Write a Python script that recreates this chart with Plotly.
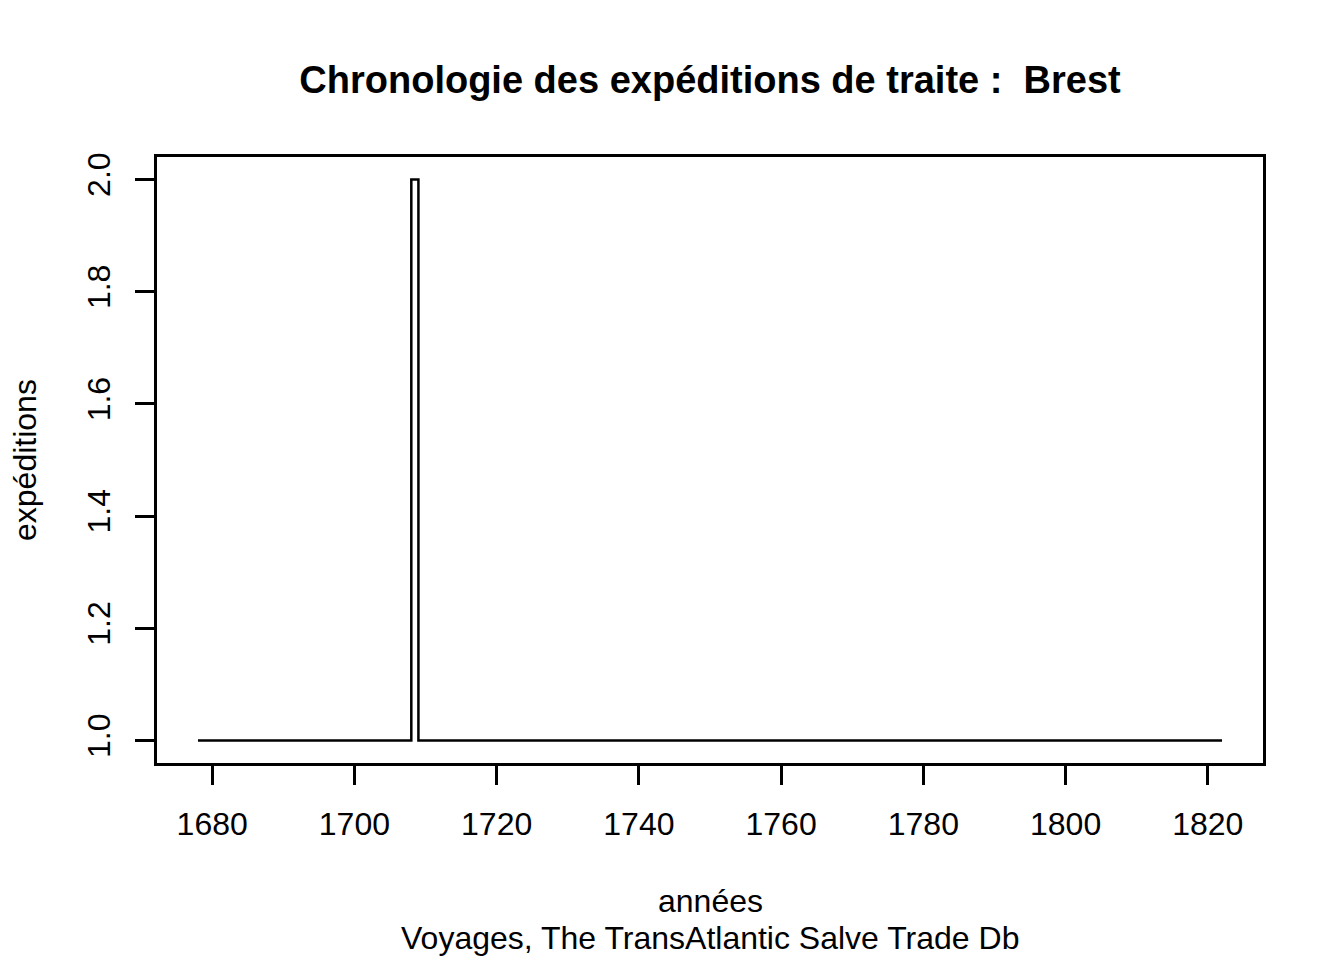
import plotly.graph_objects as go

# années des expéditions (Brest) et nombre d'expéditions
annees = [1678, 1708, 1709, 1822]
expeditions = [1, 2, 1, 1]

x_ticks = [1680, 1700, 1720, 1740, 1760, 1780, 1800, 1820]
y_ticks = [1.0, 1.2, 1.4, 1.6, 1.8, 2.0]

FONT = "Liberation Sans, Arial, sans-serif"

# the page adds an 8px body margin, so the figure is a bit smaller
W, H = 1336, 952
ML, MR, MT, MB = 149, 81, 149, 197
PW, PH = W - ML - MR, H - MT - MB

fig = go.Figure()
fig.add_trace(go.Scatter(
    x=annees, y=expeditions, mode="lines",
    line=dict(color="black", width=2.5, shape="hv"),
    showlegend=False, hoverinfo="x+y",
))

# R-like extension of 4% on both ends
xr = (min(annees), max(annees))
yr = (min(expeditions), max(expeditions))
dx = (xr[1] - xr[0]) * 0.04
dy = (yr[1] - yr[0]) * 0.04

axis_common = dict(
    showgrid=False, zeroline=False,
    showline=True, linecolor="black", linewidth=2.5, mirror=True,
    ticks="outside", ticklen=19, tickwidth=2.5, tickcolor="black",
    tickfont=dict(family=FONT, size=32, color="black"),
)

fig.update_xaxes(
    range=[xr[0] - dx, xr[1] + dx], tickvals=x_ticks,
    ticklabelstandoff=12, **axis_common,
)
fig.update_yaxes(
    range=[yr[0] - dy, yr[1] + dy], tickvals=y_ticks, tickformat=".1f",
    tickangle=-90, ticklabelstandoff=12, **axis_common,
)

fig.update_layout(
    width=W, height=H,
    margin=dict(l=ML, r=MR, t=MT, b=MB),
    plot_bgcolor="white", paper_bgcolor="white",
    font=dict(family=FONT, color="black"),
    title=dict(
        text="<b>Chronologie des expéditions de traite :  Brest</b>",
        x=(ML + PW / 2) / W, xanchor="center",
        y=1 - 72 / H, yanchor="middle",
        font=dict(family=FONT, size=38, color="black"),
    ),
    annotations=[
        dict(text="années", xref="paper", yref="paper", x=0.5, y=-138 / PH,
             yanchor="middle", showarrow=False,
             font=dict(family=FONT, size=32, color="black")),
        dict(text="Voyages, The TransAtlantic Salve Trade Db", xref="paper",
             yref="paper", x=0.5, y=-175 / PH, yanchor="middle", showarrow=False,
             font=dict(family=FONT, size=32, color="black")),
        dict(text="expéditions", xref="paper", yref="paper", x=-132 / PW,
             y=0.5, xanchor="center", yanchor="middle",
             textangle=-90, showarrow=False,
             font=dict(family=FONT, size=32, color="black")),
    ],
)

fig.write_html("out.html")
